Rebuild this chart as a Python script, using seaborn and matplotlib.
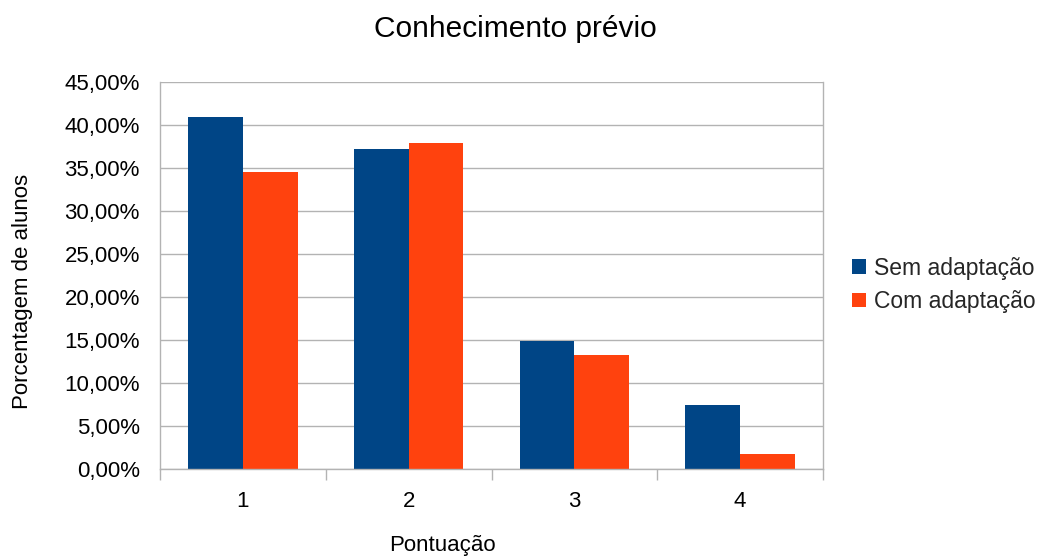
import matplotlib
matplotlib.use("Agg")
import matplotlib.pyplot as plt
from matplotlib.ticker import FuncFormatter, FixedLocator
import seaborn as sns
import pandas as pd

categories = ["1", "2", "3", "4"]
sem_adaptacao = [40.9, 37.2, 14.9, 7.4]
com_adaptacao = [34.5, 37.9, 13.2, 1.7]
series_names = ["Sem adaptação", "Com adaptação"]
colors = ["#004586", "#ff420e"]

df = pd.DataFrame({
    "Pontuação": categories * 2,
    "valor": sem_adaptacao + com_adaptacao,
    "serie": [series_names[0]] * 4 + [series_names[1]] * 4,
})

sns.set_theme(style="white")
plt.rcParams["font.family"] = ["Liberation Sans", "DejaVu Sans"]

W, H = 1040, 556
fig = plt.figure(figsize=(W / 100, H / 100), dpi=100)
ax = fig.add_axes([160 / W, 1 - 469 / H, (823 - 160) / W, (469 - 82) / H])

sns.barplot(data=df, x="Pontuação", y="valor", hue="serie", order=categories,
            hue_order=series_names, palette=colors, width=0.66, gap=0,
            saturation=1, edgecolor="none", linewidth=0, ax=ax)

grid_c = "#b3b3b3"
fs = 16
ax.set_ylim(0, 45)
ax.set_xlim(-0.5, 3.5)
ax.set_yticks(range(0, 46, 5))
ax.yaxis.set_major_formatter(FuncFormatter(lambda v, _: f"{v:.2f}%".replace(".", ",")))
ax.grid(axis="y", color=grid_c, linewidth=1)
ax.set_axisbelow(True)

for side in ["left", "bottom", "right"]:
    ax.spines[side].set_visible(True)
    ax.spines[side].set_color(grid_c)
    ax.spines[side].set_linewidth(1)
ax.spines["top"].set_visible(False)

ax.tick_params(axis="y", which="major", length=12, width=1, color=grid_c,
               direction="out", labelsize=fs, labelcolor="#000000", pad=2.5)
ax.tick_params(axis="x", which="major", length=0, labelsize=fs,
               labelcolor="#000000", pad=16)
ax.xaxis.set_minor_locator(FixedLocator([-0.5, 0.5, 1.5, 2.5, 3.5]))
ax.tick_params(axis="x", which="minor", length=8, width=1, color=grid_c,
               direction="out", bottom=True)

ax.set_xlabel("")
ax.set_ylabel("")

# Titles placed in figure pixel coordinates
fig.text(515.5 / W, 1 - 37 / H, "Conhecimento prévio", fontsize=21.5,
         ha="center", va="baseline", color="#000000")
fig.text(442 / W, 1 - 551 / H, "Pontuação", fontsize=fs,
         ha="center", va="baseline", color="#000000")
fig.text(28 / W, 1 - 291.5 / H, "Porcentagem de alunos", fontsize=fs,
         rotation=90, rotation_mode="anchor", ha="center", va="baseline",
         color="#000000")

handles, labels = ax.get_legend_handles_labels()
ax.legend_.remove()
fig.legend(handles, labels, loc="center left",
           bbox_to_anchor=(852 / W, 1 - 285 / H), frameon=False,
           fontsize=16.5, handlelength=0.6, handleheight=0.6,
           handletextpad=0.35, labelspacing=0.45, borderaxespad=0,
           borderpad=0)

fig.savefig("out.png", dpi=100)
